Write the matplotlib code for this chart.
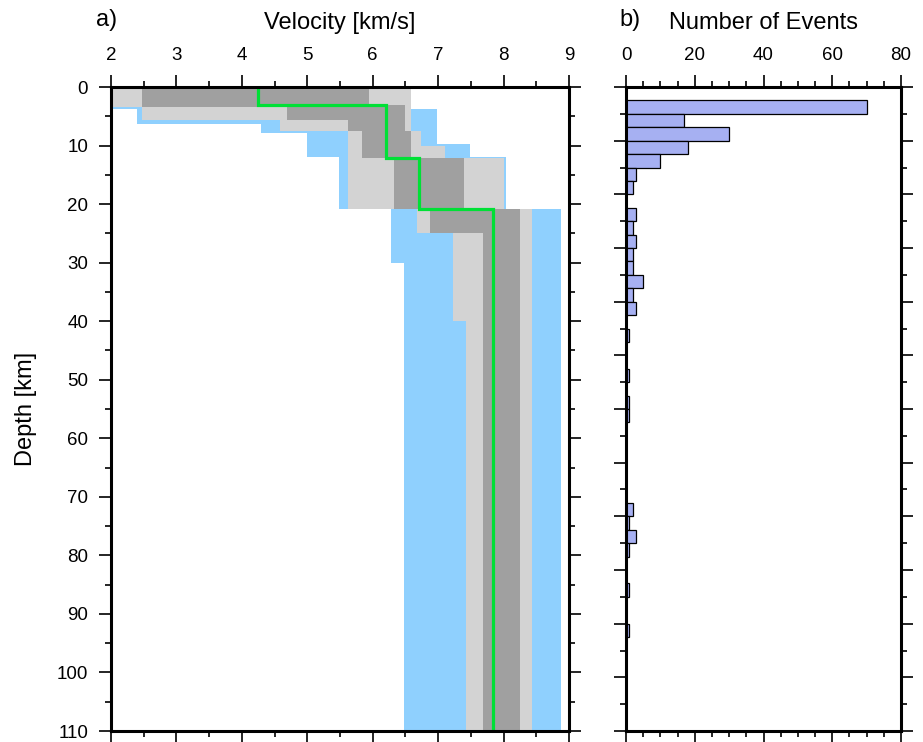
import numpy as np
import matplotlib.pyplot as plt
from matplotlib.ticker import MultipleLocator

plt.rcParams['font.family'] = ['Liberation Sans', 'DejaVu Sans']
plt.rcParams['font.size'] = 13.5

# velocity ranges (km/s) per depth band (km): outer range (blue)
blue_top = [0, 3.5, 3.8, 6.4, 7.8, 9.8, 12.0, 20.9, 30]
blue_bot = [3.5, 3.8, 6.4, 7.8, 9.8, 12.0, 20.9, 30, 110]
blue_min = [2.0, 2.0, 2.40, 4.29, 4.99, 4.99, 5.49, 6.28, 6.48]
blue_max = [6.58, 6.58, 6.98, 6.98, 6.98, 7.48, 8.03, 8.88, 8.88]

# middle range (light gray)
lgray_top = [0, 3.5, 5.6, 7.5, 10.0, 12.1, 20.9, 25, 40]
lgray_bot = [3.5, 5.6, 7.5, 10.0, 12.1, 20.9, 25, 40, 110]
lgray_min = [2.0, 2.48, 4.58, 5.62, 5.62, 5.62, 6.67, 7.23, 7.43]
lgray_max = [6.58, 6.58, 6.58, 6.74, 7.10, 8.0, 8.44, 8.44, 8.44]

# inner range (dark gray)
dgray_top = [0, 3.0, 3.5, 5.6, 7.5, 12.1, 20.9, 25]
dgray_bot = [3.0, 3.5, 5.6, 7.5, 12.1, 20.9, 25, 110]
dgray_min = [2.48, 2.48, 4.69, 5.62, 5.83, 6.33, 6.88, 7.68]
dgray_max = [5.94, 6.50, 6.50, 6.50, 6.58, 7.39, 8.25, 8.25]

# best model (green)
model_depth = [0, 3.0, 12.2, 20.9, 110]
model_vel = [4.25, 6.20, 6.70, 7.84]

# event depth histogram, bins of 2.5 km from 0 to 120 km
hist_edges = np.arange(0, 120.1, 2.5)
hist_counts = [0, 70, 17, 30, 18, 10, 3, 2, 0, 3, 2, 3, 2, 2, 5, 2,
               3, 0, 1, 0, 0, 1, 0, 1, 1, 0, 0, 0, 0, 0, 0, 2,
               1, 3, 1, 0, 0, 1, 0, 0, 1, 0, 0, 0, 0, 0, 0, 0]

fig = plt.figure(figsize=(9.23, 7.42), dpi=100)
ax = fig.add_axes([111/923, 11/742, 458/923, 644/742])
ax2 = fig.add_axes([626/923, 11/742, 275/923, 644/742])


def bands(a, top, bot, vmin, vmax, col):
    top = np.array(top)
    bot = np.array(bot)
    vmin = np.array(vmin)
    vmax = np.array(vmax)
    a.barh(top, vmax-vmin, height=bot-top, left=vmin, align='edge',
           color=col, linewidth=0)


bands(ax, blue_top, blue_bot, blue_min, blue_max, '#8fd0fe')
bands(ax, lgray_top, lgray_bot, lgray_min, lgray_max, '#d3d3d3')
bands(ax, dgray_top, dgray_bot, dgray_min, dgray_max, '#a0a0a0')
ax.stairs(model_vel, model_depth, orientation='horizontal', baseline=None,
          color='#00e036', linewidth=2.3)

ax.set_xlim(2, 9)
ax.set_ylim(110, 0)
ax.xaxis.set_major_locator(MultipleLocator(1))
ax.xaxis.set_minor_locator(MultipleLocator(0.5))
ax.yaxis.set_major_locator(MultipleLocator(10))
ax.yaxis.set_minor_locator(MultipleLocator(5))
ax.tick_params(which='both', direction='out', top=True, bottom=True,
               left=True, right=True, labeltop=True, labelbottom=False,
               width=1.2)
ax.tick_params(which='major', length=8.5, pad=8)
ax.tick_params(which='minor', length=4.5)
ax.set_xlabel('Velocity [km/s]', fontsize=17, labelpad=13)
ax.xaxis.set_label_position('top')
ax.set_ylabel('Depth [km]', fontsize=17, labelpad=14)

ax2.barh(hist_edges[:-1], hist_counts, height=2.5, align='edge',
         color='#a6b0f2', edgecolor='black', linewidth=0.9)
ax2.set_xlim(0, 80)
ax2.set_ylim(120, 0)
ax2.xaxis.set_major_locator(MultipleLocator(20))
ax2.xaxis.set_minor_locator(MultipleLocator(5))
ax2.yaxis.set_major_locator(MultipleLocator(10))
ax2.yaxis.set_minor_locator(MultipleLocator(5))
ax2.tick_params(which='both', direction='out', top=True, bottom=True,
                left=True, right=True, labeltop=True, labelbottom=False,
                labelleft=False, width=1.2)
ax2.tick_params(which='major', length=8.5, pad=8)
ax2.tick_params(which='minor', length=4.5)
ax2.set_xlabel('Number of Events', fontsize=17, labelpad=13)
ax2.xaxis.set_label_position('top')

for a in (ax, ax2):
    for s in a.spines.values():
        s.set_linewidth(2.2)
        s.set_zorder(5)

fig.text(107/923, 1-20/742, 'a)', fontsize=17, ha='center', va='center')
fig.text(630/923, 1-20/742, 'b)', fontsize=17, ha='center', va='center')

fig.savefig('out.png', dpi=100)
